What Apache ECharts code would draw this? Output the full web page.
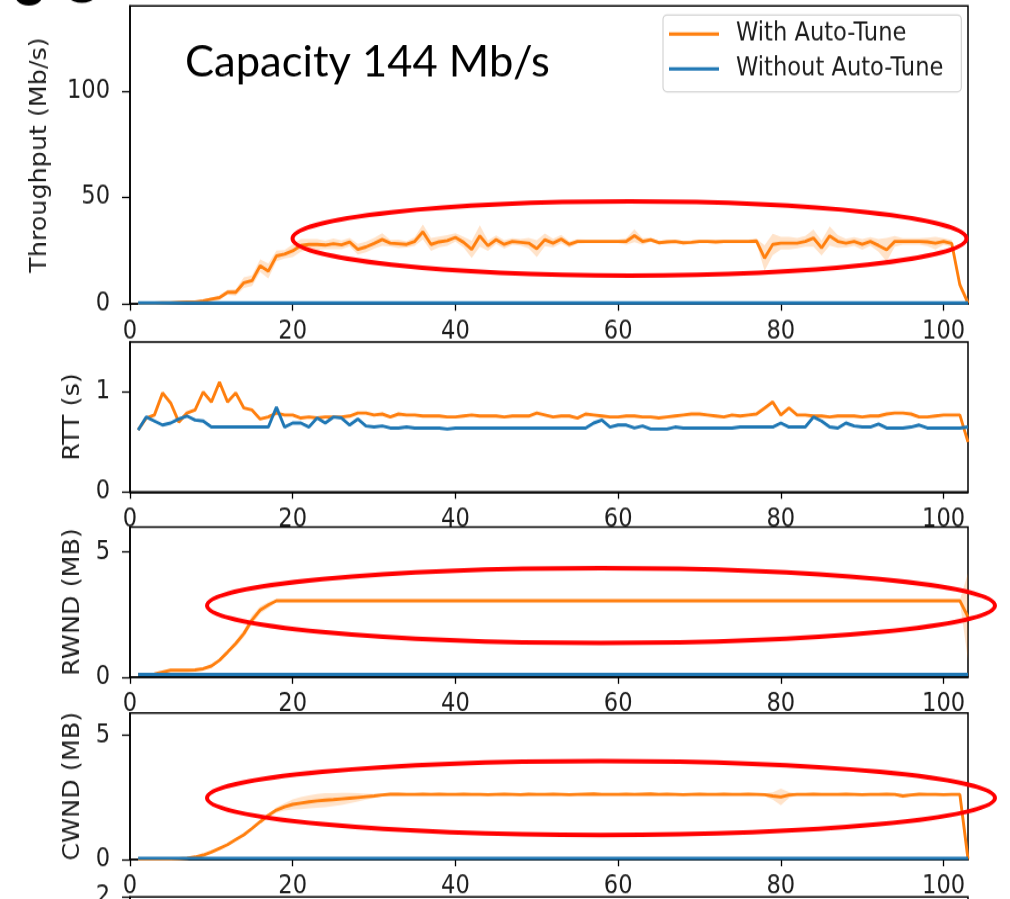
<!DOCTYPE html>
<html>
<head>
<meta charset="utf-8">
<title>Auto-Tune: throughput, RTT, RWND and CWND</title>
<script src="https://cdn.jsdelivr.net/npm/echarts@6/dist/echarts.min.js"></script>
<style>
  html, body { margin: 0; padding: 0; background: #ffffff; }
  #frame { width: 1010px; height: 899px; overflow: hidden; position: relative; }
  /* the figure is laid out 800px tall and shown stretched to 900px */
  #chart { width: 1010px; height: 800px; transform: scaleY(1.125); transform-origin: 0 0; }
</style>
</head>
<body>
<div id="frame"><div id="chart"></div></div>
<script>
// ---- measurements, one value per second (t = 1 .. 103) ----
const seriesNames = ['With Auto-Tune', 'Without Auto-Tune'];
const xTicks = [0, 20, 40, 60, 80, 100];

// Throughput (Mb/s)
const tputAuto = [
  0.3, 0.3, 0.4, 0.5, 0.6, 0.8, 0.9, 1.0, 1.5, 2.3,
  3.0, 5.5, 5.5, 10.0, 11.0, 18.0, 15.5, 22.6, 23.4, 25.0,
  27.5, 28.0, 28.0, 27.7, 28.3, 27.8, 29.1, 25.7, 26.8, 28.5,
  30.3, 28.6, 28.3, 28.0, 29.4, 33.9, 28.0, 29.2, 29.8, 31.3,
  29.0, 25.7, 32.0, 27.4, 30.2, 28.0, 29.4, 29.0, 28.6, 26.0,
  30.2, 28.6, 30.5, 28.0, 29.4, 29.4, 29.4, 29.4, 29.4, 29.4,
  29.4, 32.1, 29.4, 30.2, 28.8, 29.2, 29.4, 28.8, 29.0, 29.4,
  29.4, 29.2, 29.4, 29.4, 29.4, 29.4, 29.6, 21.6, 28.0, 28.6,
  28.6, 28.6, 29.4, 31.0, 26.4, 32.0, 29.4, 28.6, 29.4, 28.0,
  29.4, 27.5, 25.5, 29.4, 29.4, 29.4, 29.4, 29.2, 28.6, 29.4,
  28.5, 9.0, 0.5
];
const tputAutoSpread = [
  0.2, 0.2, 0.2, 0.2, 0.3, 0.3, 0.3, 0.4, 0.6, 0.8,
  1.0, 1.2, 1.5, 2.5, 2.5, 3.0, 3.5, 2.5, 2.0, 3.0,
  3.0, 2.5, 2.5, 2.0, 2.5, 2.0, 2.0, 2.5, 2.5, 2.5,
  3.0, 1.5, 2.0, 1.5, 2.0, 3.5, 3.0, 2.5, 2.5, 2.0,
  2.5, 4.0, 5.0, 2.5, 2.0, 2.0, 1.5, 1.5, 2.5, 4.0,
  3.0, 2.0, 2.0, 1.5, 1.0, 0.8, 0.8, 0.8, 0.8, 0.8,
  1.5, 3.0, 1.5, 1.0, 0.8, 0.8, 0.8, 0.8, 0.8, 0.8,
  0.8, 0.8, 0.8, 0.8, 0.8, 0.8, 1.0, 6.0, 5.0, 3.0,
  3.0, 2.5, 2.5, 4.0, 3.5, 4.5, 3.0, 2.0, 2.0, 2.5,
  2.0, 3.0, 5.5, 2.5, 1.5, 1.5, 1.5, 2.0, 3.0, 1.5,
  1.5, 2.0, 0.5
];
const tputNoAuto = [
  0.5, 0.5, 0.5, 0.5, 0.5, 0.5, 0.5, 0.5, 0.5, 0.5,
  0.5, 0.5, 0.5, 0.5, 0.5, 0.5, 0.5, 0.5, 0.5, 0.5,
  0.5, 0.5, 0.5, 0.5, 0.5, 0.5, 0.5, 0.5, 0.5, 0.5,
  0.5, 0.5, 0.5, 0.5, 0.5, 0.5, 0.5, 0.5, 0.5, 0.5,
  0.5, 0.5, 0.5, 0.5, 0.5, 0.5, 0.5, 0.5, 0.5, 0.5,
  0.5, 0.5, 0.5, 0.5, 0.5, 0.5, 0.5, 0.5, 0.5, 0.5,
  0.5, 0.5, 0.5, 0.5, 0.5, 0.5, 0.5, 0.5, 0.5, 0.5,
  0.5, 0.5, 0.5, 0.5, 0.5, 0.5, 0.5, 0.5, 0.5, 0.5,
  0.5, 0.5, 0.5, 0.5, 0.5, 0.5, 0.5, 0.5, 0.5, 0.5,
  0.5, 0.5, 0.5, 0.5, 0.5, 0.5, 0.5, 0.5, 0.5, 0.5,
  0.5, 0.5, 0.5
];

// RTT (s)
const rttAuto = [
  0.62, 0.74, 0.77, 0.99, 0.89, 0.70, 0.79, 0.82, 1.00, 0.90,
  1.10, 0.90, 0.99, 0.84, 0.82, 0.73, 0.75, 0.79, 0.77, 0.77,
  0.74, 0.75, 0.74, 0.75, 0.75, 0.75, 0.76, 0.79, 0.79, 0.77,
  0.78, 0.75, 0.78, 0.77, 0.77, 0.76, 0.76, 0.76, 0.75, 0.75,
  0.76, 0.77, 0.76, 0.76, 0.76, 0.75, 0.76, 0.76, 0.76, 0.79,
  0.77, 0.75, 0.76, 0.76, 0.74, 0.78, 0.77, 0.76, 0.75, 0.75,
  0.76, 0.76, 0.75, 0.75, 0.74, 0.75, 0.76, 0.77, 0.78, 0.78,
  0.77, 0.76, 0.75, 0.77, 0.76, 0.77, 0.78, 0.84, 0.90, 0.77,
  0.84, 0.77, 0.77, 0.76, 0.76, 0.75, 0.76, 0.76, 0.76, 0.75,
  0.76, 0.76, 0.78, 0.79, 0.79, 0.78, 0.75, 0.75, 0.76, 0.77,
  0.77, 0.77, 0.50
];
const rttNoAuto = [
  0.62, 0.75, 0.71, 0.67, 0.69, 0.73, 0.76, 0.72, 0.71, 0.65,
  0.65, 0.65, 0.65, 0.65, 0.65, 0.65, 0.65, 0.85, 0.65, 0.69,
  0.69, 0.65, 0.74, 0.69, 0.75, 0.74, 0.67, 0.73, 0.66, 0.65,
  0.66, 0.64, 0.64, 0.65, 0.64, 0.64, 0.64, 0.64, 0.63, 0.64,
  0.64, 0.64, 0.64, 0.64, 0.64, 0.64, 0.64, 0.64, 0.64, 0.64,
  0.64, 0.64, 0.64, 0.64, 0.64, 0.64, 0.69, 0.72, 0.65, 0.67,
  0.67, 0.64, 0.66, 0.63, 0.63, 0.63, 0.65, 0.64, 0.64, 0.64,
  0.64, 0.64, 0.64, 0.64, 0.65, 0.65, 0.65, 0.65, 0.65, 0.69,
  0.65, 0.65, 0.65, 0.75, 0.71, 0.65, 0.64, 0.69, 0.66, 0.65,
  0.65, 0.68, 0.64, 0.64, 0.64, 0.65, 0.67, 0.64, 0.64, 0.64,
  0.64, 0.64, 0.65
];

// Receive window (MB)
const rwndAuto = [
  0.10, 0.10, 0.12, 0.20, 0.27, 0.27, 0.27, 0.28, 0.33, 0.44,
  0.67, 1.00, 1.34, 1.74, 2.28, 2.68, 2.88, 3.05, 3.05, 3.05,
  3.05, 3.05, 3.05, 3.05, 3.05, 3.05, 3.05, 3.05, 3.05, 3.05,
  3.05, 3.05, 3.05, 3.05, 3.05, 3.05, 3.05, 3.05, 3.05, 3.05,
  3.05, 3.05, 3.05, 3.05, 3.05, 3.05, 3.05, 3.05, 3.05, 3.05,
  3.05, 3.05, 3.05, 3.05, 3.05, 3.05, 3.05, 3.05, 3.05, 3.05,
  3.05, 3.05, 3.05, 3.05, 3.05, 3.05, 3.05, 3.05, 3.05, 3.05,
  3.05, 3.05, 3.05, 3.05, 3.05, 3.05, 3.05, 3.05, 3.05, 3.05,
  3.05, 3.05, 3.05, 3.05, 3.05, 3.05, 3.05, 3.05, 3.05, 3.05,
  3.05, 3.05, 3.05, 3.05, 3.05, 3.05, 3.05, 3.05, 3.05, 3.05,
  3.05, 3.05, 2.41
];
const rwndAutoSpread = [
  0.02, 0.02, 0.02, 0.02, 0.02, 0.02, 0.02, 0.02, 0.03, 0.04,
  0.06, 0.08, 0.12, 0.15, 0.18, 0.15, 0.12, 0.05, 0.03, 0.03,
  0.03, 0.03, 0.03, 0.03, 0.03, 0.03, 0.03, 0.03, 0.03, 0.03,
  0.03, 0.03, 0.03, 0.03, 0.03, 0.03, 0.03, 0.03, 0.03, 0.03,
  0.03, 0.03, 0.03, 0.03, 0.03, 0.03, 0.03, 0.03, 0.03, 0.03,
  0.03, 0.03, 0.03, 0.03, 0.03, 0.03, 0.03, 0.03, 0.03, 0.03,
  0.03, 0.03, 0.03, 0.03, 0.03, 0.03, 0.03, 0.03, 0.03, 0.03,
  0.03, 0.03, 0.03, 0.03, 0.03, 0.03, 0.03, 0.03, 0.03, 0.03,
  0.03, 0.03, 0.03, 0.03, 0.03, 0.03, 0.03, 0.03, 0.03, 0.03,
  0.03, 0.03, 0.03, 0.03, 0.03, 0.03, 0.03, 0.03, 0.03, 0.03,
  0.03, 0.03, 1.75
];
const rwndNoAuto = [
  0.10, 0.10, 0.10, 0.10, 0.10, 0.10, 0.10, 0.10, 0.10, 0.10,
  0.10, 0.10, 0.10, 0.10, 0.10, 0.10, 0.10, 0.10, 0.10, 0.10,
  0.10, 0.10, 0.10, 0.10, 0.10, 0.10, 0.10, 0.10, 0.10, 0.10,
  0.10, 0.10, 0.10, 0.10, 0.10, 0.10, 0.10, 0.10, 0.10, 0.10,
  0.10, 0.10, 0.10, 0.10, 0.10, 0.10, 0.10, 0.10, 0.10, 0.10,
  0.10, 0.10, 0.10, 0.10, 0.10, 0.10, 0.10, 0.10, 0.10, 0.10,
  0.10, 0.10, 0.10, 0.10, 0.10, 0.10, 0.10, 0.10, 0.10, 0.10,
  0.10, 0.10, 0.10, 0.10, 0.10, 0.10, 0.10, 0.10, 0.10, 0.10,
  0.10, 0.10, 0.10, 0.10, 0.10, 0.10, 0.10, 0.10, 0.10, 0.10,
  0.10, 0.10, 0.10, 0.10, 0.10, 0.10, 0.10, 0.10, 0.10, 0.10,
  0.10, 0.10, 0.10
];

// Congestion window (MB)
const cwndAuto = [
  0.02, 0.02, 0.02, 0.02, 0.02, 0.03, 0.05, 0.10, 0.18, 0.30,
  0.45, 0.60, 0.80, 1.00, 1.25, 1.52, 1.78, 1.99, 2.12, 2.22,
  2.27, 2.32, 2.36, 2.39, 2.41, 2.44, 2.47, 2.50, 2.53, 2.56,
  2.60, 2.63, 2.63, 2.62, 2.62, 2.63, 2.62, 2.63, 2.62, 2.62,
  2.63, 2.62, 2.62, 2.61, 2.62, 2.63, 2.62, 2.61, 2.63, 2.62,
  2.62, 2.63, 2.62, 2.61, 2.62, 2.63, 2.64, 2.62, 2.62, 2.62,
  2.63, 2.62, 2.63, 2.64, 2.62, 2.63, 2.62, 2.61, 2.62, 2.63,
  2.62, 2.62, 2.63, 2.62, 2.62, 2.63, 2.62, 2.61, 2.56, 2.52,
  2.60, 2.62, 2.62, 2.63, 2.62, 2.62, 2.62, 2.63, 2.62, 2.61,
  2.62, 2.62, 2.63, 2.62, 2.56, 2.60, 2.63, 2.62, 2.62, 2.61,
  2.62, 2.62, 0.02
];
const cwndAutoSpread = [
  0.01, 0.01, 0.01, 0.01, 0.01, 0.01, 0.01, 0.02, 0.02, 0.03,
  0.03, 0.03, 0.04, 0.04, 0.04, 0.05, 0.06, 0.10, 0.15, 0.20,
  0.24, 0.26, 0.28, 0.28, 0.26, 0.24, 0.21, 0.17, 0.12, 0.08,
  0.05, 0.03, 0.03, 0.03, 0.03, 0.03, 0.03, 0.03, 0.03, 0.03,
  0.03, 0.03, 0.03, 0.03, 0.03, 0.03, 0.03, 0.03, 0.03, 0.03,
  0.03, 0.03, 0.03, 0.03, 0.03, 0.03, 0.03, 0.03, 0.03, 0.03,
  0.03, 0.03, 0.03, 0.03, 0.03, 0.03, 0.03, 0.03, 0.03, 0.03,
  0.03, 0.03, 0.03, 0.03, 0.03, 0.03, 0.03, 0.05, 0.15, 0.33,
  0.12, 0.03, 0.03, 0.03, 0.03, 0.03, 0.03, 0.03, 0.03, 0.03,
  0.03, 0.03, 0.03, 0.04, 0.08, 0.04, 0.03, 0.03, 0.03, 0.03,
  0.03, 0.03, 0.02
];
const cwndNoAuto = [
  0.05, 0.05, 0.05, 0.05, 0.05, 0.05, 0.05, 0.05, 0.05, 0.05,
  0.05, 0.05, 0.05, 0.05, 0.05, 0.05, 0.05, 0.05, 0.05, 0.05,
  0.05, 0.05, 0.05, 0.05, 0.05, 0.05, 0.05, 0.05, 0.05, 0.05,
  0.05, 0.05, 0.05, 0.05, 0.05, 0.05, 0.05, 0.05, 0.05, 0.05,
  0.05, 0.05, 0.05, 0.05, 0.05, 0.05, 0.05, 0.05, 0.05, 0.05,
  0.05, 0.05, 0.05, 0.05, 0.05, 0.05, 0.05, 0.05, 0.05, 0.05,
  0.05, 0.05, 0.05, 0.05, 0.05, 0.05, 0.05, 0.05, 0.05, 0.05,
  0.05, 0.05, 0.05, 0.05, 0.05, 0.05, 0.05, 0.05, 0.05, 0.05,
  0.05, 0.05, 0.05, 0.05, 0.05, 0.05, 0.05, 0.05, 0.05, 0.05,
  0.05, 0.05, 0.05, 0.05, 0.05, 0.05, 0.05, 0.05, 0.05, 0.05,
  0.05, 0.05, 0.05
];

// ---- drawing ----
const ORANGE = '#ff7f0e';
const BLUE = '#1f77b4';
const INK = '#1e1e1e';
const FONT = 'DejaVu Sans';
const SY = 1.125;              // vertical stretch applied by the #chart CSS transform
const Y = px => px / SY;       // on-screen y -> layout y

const seconds = tputAuto.map((_, i) => i + 1);
const points = ys => ys.map((y, i) => [seconds[i], y]);

// shaded confidence band drawn as one polygon through the axis scales
function band(idx, values, spread, color) {
  const rows = values.map((v, i) => [seconds[i], v - spread[i], v + spread[i]]);
  return {
    type: 'custom', name: 'band' + idx, xAxisIndex: idx, yAxisIndex: idx,
    silent: true, z: 2, clip: true,
    data: rows,
    encode: { x: 0, y: [1, 2] },
    renderItem: (params, api) => {
      if (params.dataIndex !== 0) return null;
      const upper = rows.map(r => api.coord([r[0], r[2]]));
      const lower = rows.map(r => api.coord([r[0], r[1]])).reverse();
      return {
        type: 'polygon',
        shape: { points: upper.concat(lower) },
        style: { fill: color, opacity: 0.22 }
      };
    }
  };
}

function line(idx, name, values, color, z) {
  return {
    type: 'line', name, xAxisIndex: idx, yAxisIndex: idx,
    data: points(values), showSymbol: false, symbol: 'none',
    lineStyle: { color, width: 2.9 }, itemStyle: { color },
    z, clip: true, animation: false
  };
}

const panels = [
  { top: 6,   bottom: 304, max: 140, ticks: [0, 50, 100], name: 'Throughput (Mb/s)', gap: 78 },
  { top: 342, bottom: 492, max: 1.5, ticks: [0, 1],       name: 'RTT (s)',           gap: 44 },
  { top: 527, bottom: 677, max: 6,   ticks: [0, 5],       name: 'RWND (MB)',         gap: 44 },
  { top: 713, bottom: 862, max: 5.9, ticks: [0, 5],       name: 'CWND (MB)',         gap: 44 },
  { top: 897, bottom: 1047, max: 2,  ticks: [2],          name: '',                  gap: 44 }
];

const grid = panels.map(p => ({
  left: 130, width: 838, top: Y(p.top), height: Y(p.bottom - p.top),
  show: true, borderColor: '#000', borderWidth: 1.5, backgroundColor: 'transparent'
}));

const xAxis = panels.map((p, i) => ({
  type: 'value', gridIndex: i, min: 0, max: 103,
  axisLine: { show: true, lineStyle: { color: '#000', width: 1.5 } },
  axisTick: { show: true, length: 6, customValues: xTicks, lineStyle: { color: '#000', width: 1.3 } },
  axisLabel: { show: i < 4, customValues: xTicks, margin: 13, fontSize: 22.6, fontFamily: FONT, color: INK },
  splitLine: { show: false }
}));

const yAxis = panels.map((p, i) => ({
  type: 'value', gridIndex: i, min: 0, max: p.max,
  name: p.name, nameLocation: 'middle', nameGap: p.gap,
  nameTextStyle: { fontSize: 22.6, fontFamily: FONT, color: INK },
  axisLine: { show: true, lineStyle: { color: '#000', width: 1.5 } },
  axisTick: { show: true, length: 8, customValues: p.ticks, lineStyle: { color: '#000', width: 1.3 } },
  axisLabel: { customValues: p.ticks, margin: 20, fontSize: 22.6, fontFamily: FONT, color: INK },
  splitLine: { show: false }
}));

const series = [
  band(0, tputAuto, tputAutoSpread, ORANGE),
  line(0, seriesNames[0], tputAuto, ORANGE, 3),
  line(0, seriesNames[1], tputNoAuto, BLUE, 4),
  line(1, seriesNames[0], rttAuto, ORANGE, 3),
  line(1, seriesNames[1], rttNoAuto, BLUE, 4),
  band(2, rwndAuto, rwndAutoSpread, ORANGE),
  line(2, seriesNames[0], rwndAuto, ORANGE, 3),
  line(2, seriesNames[1], rwndNoAuto, BLUE, 4),
  band(3, cwndAuto, cwndAutoSpread, ORANGE),
  line(3, seriesNames[0], cwndAuto, ORANGE, 3),
  line(3, seriesNames[1], cwndNoAuto, BLUE, 4)
];

// red highlight rings around the steady-state region of each panel
const ring = (cx, cy, rx, ry) => ({
  type: 'ellipse', z: 100, silent: true,
  shape: { cx, cy: Y(cy), rx, ry: Y(ry) },
  style: { fill: null, stroke: '#ff0000', lineWidth: 4 }
});

// annotation text kept at its natural proportions inside the stretched figure
const flatText = (x, yTop, text, font) => ({
  type: 'text', z: 100, silent: true, x, y: Y(yTop), scaleY: 1 / SY,
  style: { text, font, fill: '#000', align: 'left', verticalAlign: 'top' }
});

const chart = echarts.init(document.getElementById('chart'), null, { renderer: 'canvas' });
chart.setOption({
  backgroundColor: '#ffffff',
  animation: false,
  grid, xAxis, yAxis, series,
  legend: {
    data: seriesNames,
    orient: 'vertical',
    left: 663, top: Y(15),
    padding: [5.4, 18, 8.7, 6],
    itemWidth: 50, itemHeight: 3, itemGap: 8.1,
    icon: 'rect',
    backgroundColor: '#ffffff',
    borderColor: '#d4d4d4', borderWidth: 1.2, borderRadius: 4,
    textStyle: { fontSize: 22.6, fontFamily: FONT, color: INK, lineHeight: 23, padding: [0, 0, 0, 12] }
  },
  graphic: [
    flatText(185, 41, 'Capacity 144 Mb/s', '43.5px Lato'),
    flatText(11, -45, 'o', 'bold 62px Lato'),
    flatText(60, -60, 'o', 'bold 76px Lato'),
    ring(629.5, 238.5, 337, 37),
    ring(601, 605.5, 394, 37.5),
    ring(601, 798, 394, 37)
  ]
});
</script>
</body>
</html>
